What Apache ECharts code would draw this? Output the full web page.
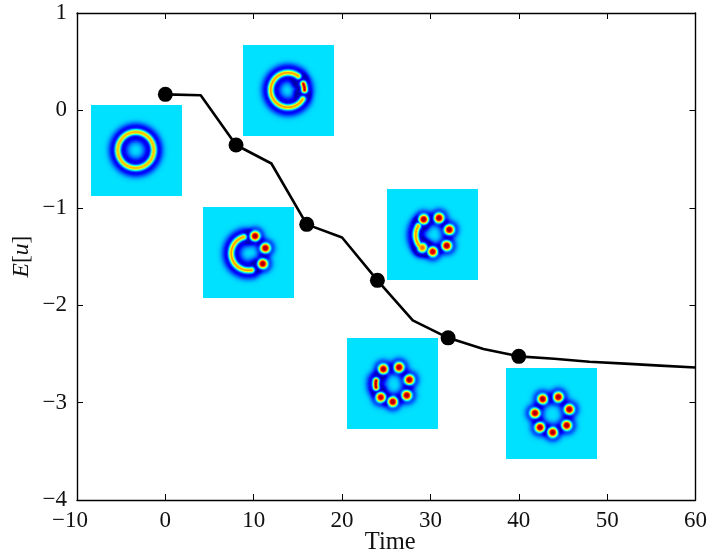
<!DOCTYPE html>
<html>
<head>
<meta charset="utf-8">
<style>html,body{margin:0;padding:0;background:#fff}#c{width:709px;height:553px}</style>
<script src="https://cdn.jsdelivr.net/npm/echarts@6/dist/echarts.min.js"></script>
</head>
<body>
<div id="c"></div>
<script>
// Energy curve
var times = [0,4,8,12,16,20,24,28,32,36,40,44,48,52,56,60];
var energy = [0.165,0.155,-0.355,-0.545,-1.17,-1.305,-1.745,-2.155,-2.335,-2.45,-2.525,-2.55,-2.58,-2.6,-2.62,-2.64];
var markerTimes = [0,8,16,24,32,40];
var markerEnergy = [0.165,-0.355,-1.17,-1.745,-2.335,-2.525];
var xTicks = [-10,0,10,20,30,40,50,60];
var yTicks = [-4,-3,-2,-1,0,1];

// Inset centres in data units
var insetTime = [-3.21,13.94,9.41,30.23,25.71,43.70];
var insetEnergy = [-0.412,0.204,-1.459,-1.274,-2.804,-3.112];
var insetSpanTime = 10.3;
var insetSpanEnergy = 0.934;

// Inset contents on a 91x91 matrix: rings [cx,cy,R,fromDeg,toDeg,peak], dots [x,y,peak]
var arcs1 = [[44.3,45,18,0,360,0.66]];
var dots1 = [];
var arcs2 = [[45,45,17.3,54,328,0.68],[45,45,16.5,0,22,0.9]];
var dots2 = [];
var arcs3 = [[45.3,46.3,17,106,281,0.68]];
var dots3 = [[52,29,0.92],[62.3,41,0.92],[59.7,56.7,0.92]];
var arcs4 = [[46.3,46,17.6,149,225,0.68]];
var dots4 = [[36.7,30.3,0.92],[52,29,0.92],[62.3,40.7,0.92],[59.7,56.7,0.92],[45.7,62.7,0.88],[35.3,58.7,0.72]];
var arcs5 = [[44.7,46,16,168,192,0.92]];
var dots5 = [[36.3,31,0.92],[52,29.3,0.92],[62.3,41.7,0.92],[59.7,57.3,0.92],[45.7,63.7,0.92],[33.7,59.3,0.88]];
var arcs6 = [];
var dots6 = [[36.7,31,0.92],[52.3,29,0.92],[63.3,41.3,0.92],[60.7,57.3,0.92],[46.7,64.3,0.92],[34,59.3,0.92],[29,45,0.92]];
var insetArcs = [arcs1,arcs2,arcs3,arcs4,arcs5,arcs6];
var insetDots = [dots1,dots2,dots3,dots4,dots5,dots6];

function jet(v){
  v = Math.max(0,Math.min(1,v));
  function c(t){return Math.round(255*Math.max(0,Math.min(1,t)));}
  return [c(Math.min(4*v-1.5,-4*v+4.5)),c(Math.min(4*v-0.5,-4*v+3.5)),c(Math.min(4*v+0.5,-4*v+2.5))];
}
function paintInset(i){
  var n = 91, cv = document.createElement('canvas');
  cv.width = n; cv.height = n;
  var g = cv.getContext('2d'), im = g.createImageData(n,n);
  var bg = 0.345, deep = 0.3;
  for (var py=0; py<n; py++) for (var px=0; px<n; px++){
    var x = px+0.5, y = py+0.5, H = 0, P = 0;
    insetArcs[i].forEach(function(a){
      var dx = x-a[0], dy = a[1]-y, r = Math.sqrt(dx*dx+dy*dy);
      var ang = Math.atan2(dy,dx)*180/Math.PI; if (ang<0) ang+=360;
      var d;
      if (ang>=a[3] && ang<=a[4]) d = Math.abs(r-a[2]);
      else {
        var e0 = [a[0]+a[2]*Math.cos(a[3]*Math.PI/180), a[1]-a[2]*Math.sin(a[3]*Math.PI/180)];
        var e1 = [a[0]+a[2]*Math.cos(a[4]*Math.PI/180), a[1]-a[2]*Math.sin(a[4]*Math.PI/180)];
        d = Math.min(Math.hypot(x-e0[0],y-e0[1]), Math.hypot(x-e1[0],y-e1[1]));
      }
      H += r<a[2] ? Math.exp(-Math.pow(d/10.5,3)) : Math.exp(-Math.pow(d/9,3));
      P = Math.max(P, a[5]*Math.exp(-d*d/(2*2.1*2.1)));
    });
    insetDots[i].forEach(function(b){
      var d = Math.hypot(x-b[0],y-b[1]);
      H += Math.exp(-Math.pow(d/9,3));
      P = Math.max(P, b[2]*Math.exp(-Math.pow(d/5,3)));
    });
    var v = bg - deep*Math.min(1,H) + P;
    var col = jet(v), k = 4*(py*n+px);
    im.data[k]=col[0]; im.data[k+1]=col[1]; im.data[k+2]=col[2]; im.data[k+3]=255;
  }
  g.putImageData(im,0,0);
  return cv;
}
var insetImages = insetTime.map(function(_,i){return paintInset(i);});

var serif = '"Liberation Serif","Times New Roman",serif';
var chart = echarts.init(document.getElementById('c'),null,{renderer:'canvas'});
var axisLine = {show:true,onZero:false,lineStyle:{color:'#000',width:1.4}};
var tick = {show:true,inside:true,length:6,lineStyle:{color:'#000',width:1}};
var fmt = function(v){return String(v).replace('-','\u2212');};
chart.setOption({
  animation:false,
  backgroundColor:'#fff',
  grid:{left:77,right:13.5,top:13,bottom:53,containLabel:false,outerBoundsMode:'none'},
  xAxis:[
    {type:'value',min:-10,max:60,interval:10,position:'bottom',
     axisLine:axisLine,axisTick:tick,splitLine:{show:false},
     name:'Time',nameLocation:'middle',nameGap:30,nameMoveOverlap:false,
     nameTextStyle:{fontFamily:serif,fontSize:24.5,color:'#111',padding:[0,0,0,8]},
     axisLabel:{margin:9,fontFamily:serif,fontSize:23,color:'#111',
       formatter:function(v){return v<0?'{neg|'+fmt(v)+'}':fmt(v);},
       rich:{neg:{fontFamily:serif,fontSize:23,color:'#111',padding:[0,14,0,0]}}}},
    {type:'value',min:-10,max:60,interval:10,position:'top',
     axisLine:axisLine,axisTick:tick,axisLabel:{show:false},splitLine:{show:false}}
  ],
  yAxis:[
    {type:'value',min:-4,max:1,interval:1,position:'left',
     axisLine:axisLine,axisTick:tick,splitLine:{show:false},
     name:'{i|E}{r|[}{i|u}{r|]}',nameLocation:'middle',nameGap:43,nameRotate:90,nameMoveOverlap:false,
     nameTextStyle:{rich:{i:{fontFamily:serif,fontSize:23.5,fontStyle:'italic',color:'#111'},
                          r:{fontFamily:serif,fontSize:23.5,color:'#111'}}},
     axisLabel:{margin:10,fontFamily:serif,fontSize:23,color:'#111',formatter:fmt}},
    {type:'value',min:-4,max:1,interval:1,position:'right',
     axisLine:axisLine,axisTick:tick,axisLabel:{show:false},splitLine:{show:false}}
  ],
  series:[
    {type:'custom',coordinateSystem:'cartesian2d',z:1,silent:true,clip:false,
     data:insetTime.map(function(t,i){return [t,insetEnergy[i],i];}),
     encode:{x:0,y:1},
     renderItem:function(params,api){
       var t=api.value(0), e=api.value(1), i=api.value(2);
       var a=api.coord([t-insetSpanTime/2,e+insetSpanEnergy/2]);
       var b=api.coord([t+insetSpanTime/2,e-insetSpanEnergy/2]);
       return {type:'image',style:{image:insetImages[i],x:a[0],y:a[1],width:b[0]-a[0],height:b[1]-a[1]}};
     }},
    {type:'line',z:2,silent:true,showSymbol:false,symbol:'none',clip:false,
     data:times.map(function(t,i){return [t,energy[i]];}),
     lineStyle:{color:'#000',width:2.6,join:'round'}},
    {type:'scatter',z:3,silent:true,symbol:'circle',symbolSize:15,
     data:markerTimes.map(function(t,i){return [t,markerEnergy[i]];}),
     itemStyle:{color:'#000',opacity:1}}
  ]
});
</script>
</body>
</html>
